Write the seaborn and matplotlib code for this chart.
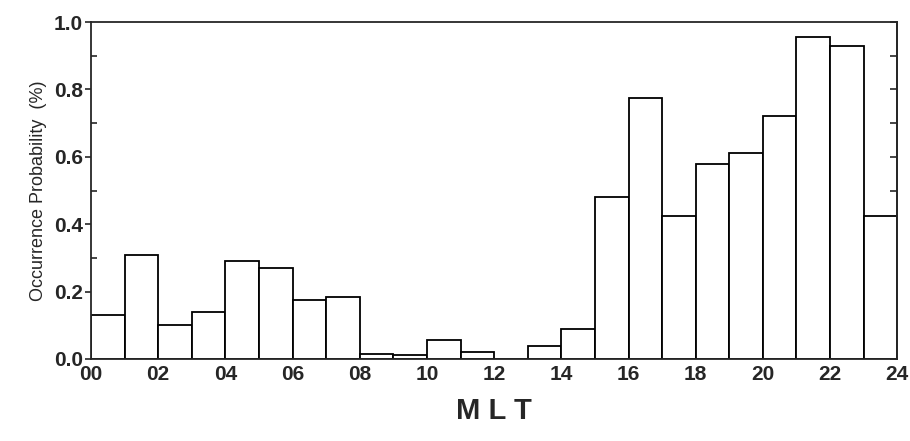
import pandas as pd
import matplotlib
matplotlib.use("Agg")
import matplotlib.pyplot as plt
import seaborn as sns
from matplotlib.ticker import MultipleLocator

# occurrence probability (%) per 1-hour MLT bin, 00-01 ... 23-24
mlt_hour = list(range(24))
prob = [0.13, 0.31, 0.10, 0.14, 0.29, 0.27, 0.175, 0.185, 0.015, 0.013,
        0.057, 0.02, 0.0, 0.038, 0.09, 0.48, 0.775, 0.425, 0.58, 0.61,
        0.72, 0.955, 0.93, 0.425]
xtick_vals = list(range(0, 25, 2))
xtick_labels = ["%02d" % h for h in xtick_vals]

df = pd.DataFrame({"MLT": [h + 0.5 for h in mlt_hour], "prob": prob})

sns.set_style("ticks")
plt.rcParams['font.family'] = ['Liberation Sans', 'DejaVu Sans']

fig = plt.figure(figsize=(9.10, 4.41), dpi=100)
ax = fig.add_axes([0.1, 0.186, 0.886, 0.764])

sns.histplot(data=df, x="MLT", weights="prob", binwidth=1, binrange=(0, 24),
             color="white", edgecolor="black", linewidth=1.3, alpha=1,
             ax=ax)

ax.set_xlim(0, 24)
ax.set_ylim(0, 1.0)
ax.set_xticks(xtick_vals)
ax.set_xticklabels(xtick_labels, fontsize=15, fontweight="bold")
ax.tick_params(axis="x", length=0, pad=4)

ax.yaxis.set_minor_locator(MultipleLocator(0.1))
yt = [0.0, 0.2, 0.4, 0.6, 0.8, 1.0]
ax.set_yticks(yt)
ax.set_yticklabels(["%.1f" % v for v in yt], fontsize=15, fontweight="bold")
ax.set_ylim(0, 1.0)
ax.tick_params(axis="y", which="major", direction="out", length=4, width=1.2, pad=2)
ax.tick_params(axis="y", which="minor", direction="in", length=4, width=1.2)

sec = ax.secondary_yaxis("right")
sec.yaxis.set_major_locator(MultipleLocator(0.1))
sec.tick_params(direction="in", length=5, width=1.2, labelright=False)

for s in ax.spines.values():
    s.set_visible(True)
    s.set_linewidth(1.3)
sec.spines["right"].set_linewidth(1.3)

ax.set_xlabel("M L T", fontsize=21, fontweight="bold", labelpad=10)
ax.set_ylabel("Occurrence Probability  (%)", fontsize=13, labelpad=5)

fig.savefig("out.png", dpi=100)
